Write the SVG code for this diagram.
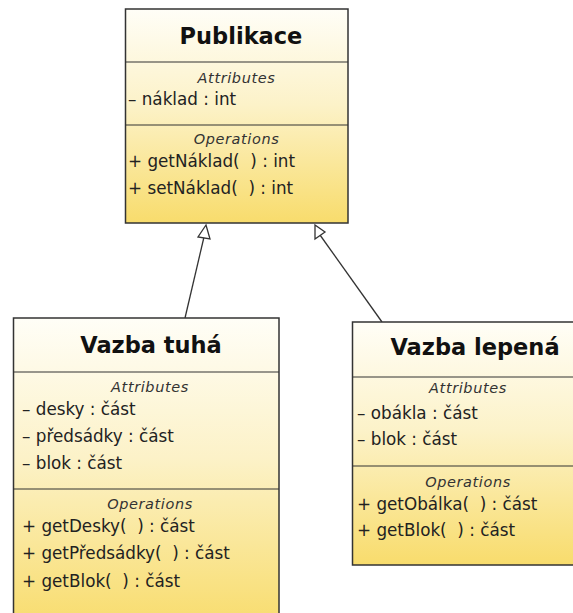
<svg xmlns="http://www.w3.org/2000/svg" width="573" height="613" viewBox="0 0 573 613">
<style>
.box{stroke:#333;stroke-width:1.5;fill:url(#g)}
.sep{stroke:#333;stroke-width:1.2}
.title{font-family:"DejaVu Sans",sans-serif;font-weight:bold;font-size:22.5px;fill:#111;text-anchor:middle}
.sec{font-family:"DejaVu Sans",sans-serif;font-style:italic;font-size:14.5px;letter-spacing:0.6px;fill:#333;text-anchor:middle}
.item{font-family:"DejaVu Sans",sans-serif;font-size:16.8px;fill:#222;white-space:pre}
.conn{stroke:#333;stroke-width:1.3;fill:none}
.head{stroke:#333;stroke-width:1.3;fill:#fff}
</style>
<defs>
<linearGradient id="g" x1="0" y1="0" x2="0" y2="1">
<stop offset="0" stop-color="#fffef7"/>
<stop offset="0.45" stop-color="#fcf2c8"/>
<stop offset="1" stop-color="#f8dc6c"/>
</linearGradient>
</defs>
<rect width="573" height="613" fill="#fff"/>
<g id="connectors">
<line class="conn" x1="185" y1="318" x2="204" y2="237"/>
<polygon class="head" points="206,225 198,237 210,239"/>
<line class="conn" x1="382" y1="322" x2="320" y2="235"/>
<polygon class="head" points="315,225 315,239 325,232"/>
</g>
<g id="publikace">
<rect class="box" x="125.5" y="9" width="222.5" height="214"/>
<line class="sep" x1="125.5" y1="62" x2="348" y2="62"/>
<line class="sep" x1="125.5" y1="125" x2="348" y2="125"/>
<text class="title" x="241" y="44">Publikace</text>
<text class="sec" x="236.5" y="83">Attributes</text>
<text class="item" x="128" y="105">– náklad : int</text>
<text class="sec" x="236.5" y="144">Operations</text>
<text class="item" x="128" y="167">+ getNáklad(  ) : int</text>
<text class="item" x="128" y="194">+ setNáklad(  ) : int</text>
</g>
<g id="vazba-tuha">
<rect class="box" x="13.5" y="318" width="265.5" height="310"/>
<line class="sep" x1="13.5" y1="372" x2="279" y2="372"/>
<line class="sep" x1="13.5" y1="489" x2="279" y2="489"/>
<text class="title" x="151" y="353">Vazba tuhá</text>
<text class="sec" x="150" y="392">Attributes</text>
<text class="item" x="22" y="415">– desky : část</text>
<text class="item" x="22" y="442">– předsádky : část</text>
<text class="item" x="22" y="469">– blok : část</text>
<text class="sec" x="150" y="509">Operations</text>
<text class="item" x="22" y="532">+ getDesky(  ) : část</text>
<text class="item" x="22" y="559">+ getPředsádky(  ) : část</text>
<text class="item" x="22" y="587">+ getBlok(  ) : část</text>
</g>
<g id="vazba-lepena">
<rect class="box" x="352.5" y="322" width="230" height="243"/>
<line class="sep" x1="352.5" y1="377" x2="582" y2="377"/>
<line class="sep" x1="352.5" y1="466" x2="582" y2="466"/>
<text class="title" x="475" y="355">Vazba lepená</text>
<text class="sec" x="468" y="393">Attributes</text>
<text class="item" x="357" y="419">– obákla : část</text>
<text class="item" x="357" y="445">– blok : část</text>
<text class="sec" x="468" y="487">Operations</text>
<text class="item" x="357" y="510">+ getObálka(  ) : část</text>
<text class="item" x="357" y="536">+ getBlok(  ) : část</text>
</g>
</svg>
